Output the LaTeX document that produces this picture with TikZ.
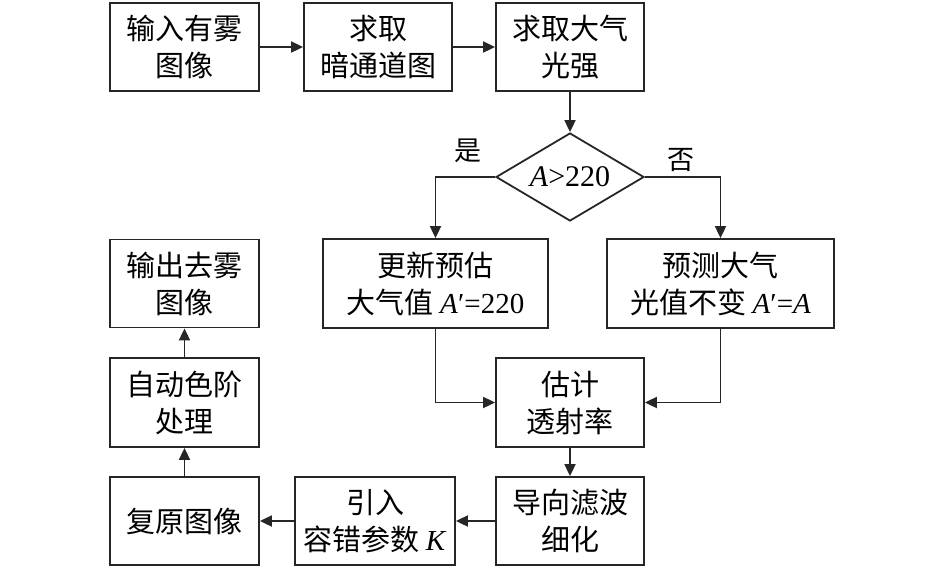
\documentclass[tikz,border=0pt]{standalone}
\usepackage{fontspec}
\setmainfont{Liberation Serif}
\newfontfamily\cj{Noto Sans CJK SC}
\usetikzlibrary{arrows.meta,shapes.geometric}
\tikzset{
  box/.style={draw=black!85, line width=1.8pt, align=center, inner sep=0pt,
    font=\fontsize{29}{37}\selectfont\cj},
  dec/.style={draw=black!85, line width=1.8pt, diamond, aspect=1.68, inner sep=0pt,
    minimum width=148pt, minimum height=88pt, font=\fontsize{30}{36}\selectfont},
  arr/.style={draw=black!85, line width=1.8pt, -{Triangle[length=12pt,width=11pt]}},
  lbl/.style={font=\fontsize{27}{30}\selectfont\cj, inner sep=0pt}
}
\begin{document}
\begin{tikzpicture}[x=1pt,y=-1pt]
\useasboundingbox (0,0) rectangle (945,568);
% row 1
\node[box, minimum width=149pt, minimum height=88pt] (b1) at (184.5,47) {输入有雾\\图像};
\node[box, minimum width=148pt, minimum height=88pt] (b2) at (378,47) {求取\\暗通道图};
\node[box, minimum width=148pt, minimum height=88pt] (b3) at (570,47) {求取大气\\光强};
% decision
\node[dec] (d) at (570,177) {\textit{A}>220};
\node[lbl] (yes) at (468,151) {是};
\node[lbl] (no) at (681,160) {否};
% row 2
\node[box, minimum width=225pt, minimum height=89pt] (b4) at (435.5,283.5) {更新预估\\大气值 {\rmfamily\textit{A}′=220}};
\node[box, minimum width=227pt, minimum height=89pt] (b5) at (720.5,283.5) {预测大气\\光值不变 {\rmfamily\textit{A}′=\textit{A}}};
\node[box, minimum width=149pt, minimum height=88pt] (b11) at (184.5,283.5) {输出去雾\\图像};
% row 3
\node[box, minimum width=148pt, minimum height=89pt] (b6) at (570,402.5) {估计\\透射率};
\node[box, minimum width=149pt, minimum height=89pt] (b10) at (184.5,402.5) {自动色阶\\处理};
% row 4
\node[box, minimum width=148pt, minimum height=88pt] (b7) at (570,521) {导向滤波\\细化};
\node[box, minimum width=160pt, minimum height=88pt] (b8) at (375,521) {引入\\容错参数 {\rmfamily\textit{K}}};
\node[box, minimum width=149pt, minimum height=88pt] (b9) at (184.5,521) {复原图像};
% connectors
\draw[arr] (b1) -- (b2);
\draw[arr] (b2) -- (b3);
\draw[arr] (b3) -- (d);
\draw[arr] (d.west) -| (b4.north);
\draw[arr] (d.east) -| (b5.north);
\draw[arr] (b4.south) |- (b6.west);
\draw[arr] (b5.south) |- (b6.east);
\draw[arr] (b6) -- (b7);
\draw[arr] (b7) -- (b8);
\draw[arr] (b8) -- (b9);
\draw[arr] (b9) -- (b10);
\draw[arr] (b10) -- (b11);
\end{tikzpicture}
\end{document}
